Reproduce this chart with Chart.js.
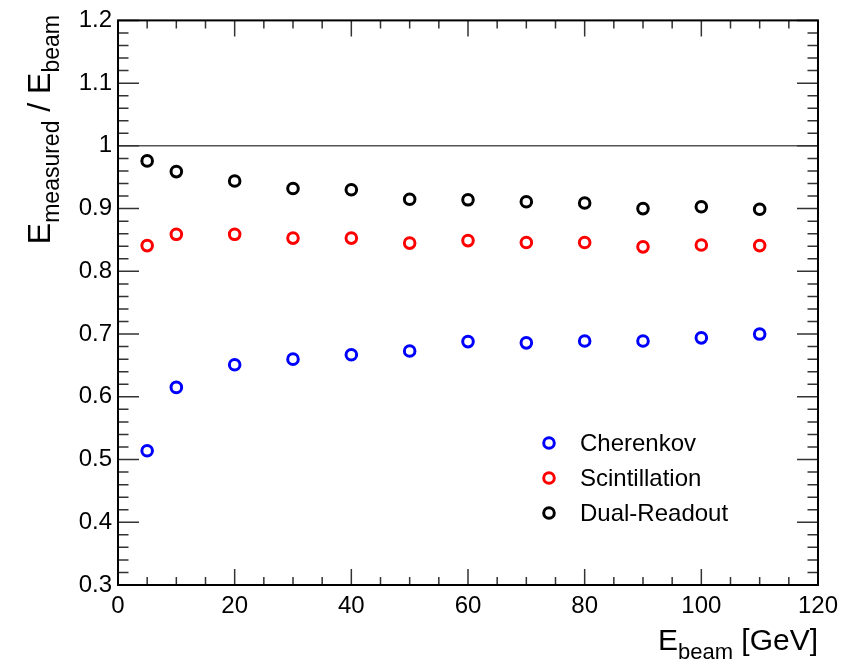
<!DOCTYPE html>
<html>
<head>
<meta charset="utf-8">
<script src="https://cdn.jsdelivr.net/npm/chart.js@4.4.0/dist/chart.umd.min.js"></script>
<style>
  html, body { margin: 0; padding: 0; background: #fff; }
  canvas { display: block; }
</style>
</head>
<body>
<canvas id="chart" width="846" height="661"></canvas>
<script>
// beam energies (GeV)
const energies = [5, 10, 20, 30, 40, 50, 60, 70, 80, 90, 100, 110];

// E_measured / E_beam
const cherenkov = [0.514, 0.615, 0.651, 0.660, 0.667, 0.673, 0.688, 0.686, 0.689, 0.689, 0.694, 0.700];
const scintillation = [0.841, 0.859, 0.859, 0.853, 0.853, 0.845, 0.849, 0.846, 0.846, 0.839, 0.842, 0.841];
const dualReadout = [0.976, 0.959, 0.944, 0.932, 0.930, 0.915, 0.914, 0.911, 0.909, 0.900, 0.903, 0.899];

const seriesNames = ['Cherenkov', 'Scintillation', 'Dual-Readout'];

// reference line at 1
const refLineX = [0, 120];
const refLineY = [1, 1];

// axis ticks
const xTicks = [0, 20, 40, 60, 80, 100, 120];
const xTickLabels = ['0', '20', '40', '60', '80', '100', '120'];
const yTicks = [0.3, 0.4, 0.5, 0.6, 0.7, 0.8, 0.9, 1.0, 1.1, 1.2];
const yTickLabels = ['0.3', '0.4', '0.5', '0.6', '0.7', '0.8', '0.9', '1', '1.1', '1.2'];

const FONT = "'Liberation Sans', Arial, Helvetica, sans-serif";

function toPoints(xs, ys) {
    return xs.map((x, i) => ({ x: x, y: ys[i] }));
}

function markerSet(label, values, color) {
    return {
        label: label,
        data: toPoints(energies, values),
        showLine: false,
        pointStyle: 'circle',
        pointRadius: 5.3,
        pointHoverRadius: 5.3,
        pointBorderWidth: 3,
        pointBorderColor: color,
        pointBackgroundColor: 'rgba(255,255,255,0)',
        borderColor: color,
        backgroundColor: 'rgba(255,255,255,0)'
    };
}

// draw text pieces (main + subscripts) one after another
function richWidth(ctx, parts) {
    let w = 0;
    parts.forEach(p => {
        ctx.font = p.size + 'px ' + FONT;
        w += ctx.measureText(p.text).width;
    });
    return w;
}

function drawRich(ctx, parts, x, y) {
    let cx = x;
    parts.forEach(p => {
        ctx.font = p.size + 'px ' + FONT;
        ctx.fillText(p.text, cx, y + (p.dy || 0));
        cx += ctx.measureText(p.text).width;
    });
}

// ROOT style frame, inner ticks, axis titles and legend
const rootStyle = {
    id: 'rootStyle',
    afterDatasetsDraw(chart) {
        const ctx = chart.ctx;
        const a = chart.chartArea;
        const xs = chart.scales.x;
        const ys = chart.scales.y;

        ctx.save();
        ctx.strokeStyle = '#333';
        ctx.lineWidth = 1.5;
        ctx.beginPath();
        for (let v = 0; v <= 120; v += 5) {
            const px = xs.getPixelForValue(v);
            const len = (v % 20 === 0) ? 16 : 8;
            ctx.moveTo(px, a.bottom);
            ctx.lineTo(px, a.bottom - len);
            ctx.moveTo(px, a.top);
            ctx.lineTo(px, a.top + len);
        }
        for (let i = 0; i <= 45; i++) {
            const v = 0.3 + i * 0.02;
            const py = ys.getPixelForValue(v);
            const len = (i % 5 === 0) ? 21 : 10.5;
            ctx.moveTo(a.left, py);
            ctx.lineTo(a.left + len, py);
            ctx.moveTo(a.right, py);
            ctx.lineTo(a.right - len, py);
        }
        ctx.stroke();

        ctx.strokeStyle = '#000';
        ctx.lineWidth = 2;
        ctx.strokeRect(a.left, a.top, a.right - a.left, a.bottom - a.top);

        // axis titles
        ctx.fillStyle = '#000';
        ctx.textBaseline = 'alphabetic';
        ctx.textAlign = 'left';
        const xTitle = [
            { text: 'E', size: 30 },
            { text: 'beam', size: 22, dy: 9 },
            { text: ' [GeV]', size: 30 }
        ];
        const xw = richWidth(ctx, xTitle);
        drawRich(ctx, xTitle, a.right - xw, 650);

        const yTitle = [
            { text: 'E', size: 32 },
            { text: 'measured', size: 23, dy: 9 },
            { text: ' / ', size: 32 },
            { text: 'E', size: 32 },
            { text: 'beam', size: 23, dy: 9 }
        ];
        const yw = richWidth(ctx, yTitle);
        ctx.save();
        ctx.translate(50, 15);
        ctx.rotate(-Math.PI / 2);
        drawRich(ctx, yTitle, -yw, 0);
        ctx.restore();

        // legend
        const legendY = [443, 478, 513];
        chart.data.datasets.forEach((ds, i) => {
            if (i >= seriesNames.length) return;
            ctx.beginPath();
            ctx.lineWidth = 3;
            ctx.strokeStyle = ds.pointBorderColor;
            ctx.arc(549, legendY[i], 5.3, 0, Math.PI * 2);
            ctx.stroke();
            ctx.fillStyle = '#000';
            ctx.font = '24px ' + FONT;
            ctx.textBaseline = 'middle';
            ctx.fillText(ds.label, 580, legendY[i] + 1);
        });
        ctx.restore();
    }
};

new Chart(document.getElementById('chart'), {
    type: 'scatter',
    data: {
        datasets: [
            markerSet(seriesNames[0], cherenkov, '#0000ff'),
            markerSet(seriesNames[1], scintillation, '#ff0000'),
            markerSet(seriesNames[2], dualReadout, '#000000'),
            {
                label: 'ref',
                data: toPoints(refLineX, refLineY),
                showLine: true,
                borderColor: '#555',
                borderWidth: 1.5,
                pointRadius: 0,
                pointHoverRadius: 0
            }
        ]
    },
    options: {
        responsive: false,
        animation: false,
        layout: { padding: { top: 18, right: 28, left: 0, bottom: 0 } },
        plugins: {
            legend: { display: false },
            tooltip: { enabled: false }
        },
        scales: {
            x: {
                type: 'linear',
                min: 0,
                max: 120,
                grid: { display: false, drawTicks: false, tickLength: 0 },
                border: { display: false },
                afterBuildTicks: s => { s.ticks = xTicks.map(v => ({ value: v })); },
                afterFit: s => { s.height = 76; },
                ticks: {
                    autoSkip: false,
                    maxRotation: 0,
                    padding: 7,
                    color: '#000',
                    font: { family: FONT, size: 24 },
                    callback: v => xTickLabels[xTicks.indexOf(v)]
                }
            },
            y: {
                type: 'linear',
                min: 0.3,
                max: 1.2,
                grid: { display: false, drawTicks: false, tickLength: 0 },
                border: { display: false },
                afterBuildTicks: s => { s.ticks = yTicks.map(v => ({ value: v })); },
                afterFit: s => { s.width = 118; },
                ticks: {
                    autoSkip: false,
                    padding: 6,
                    color: '#000',
                    font: { family: FONT, size: 24 },
                    callback: v => {
                        const i = yTicks.findIndex(t => Math.abs(t - v) < 1e-6);
                        return i >= 0 ? yTickLabels[i] : '';
                    }
                }
            }
        }
    },
    plugins: [rootStyle]
});
</script>
</body>
</html>
